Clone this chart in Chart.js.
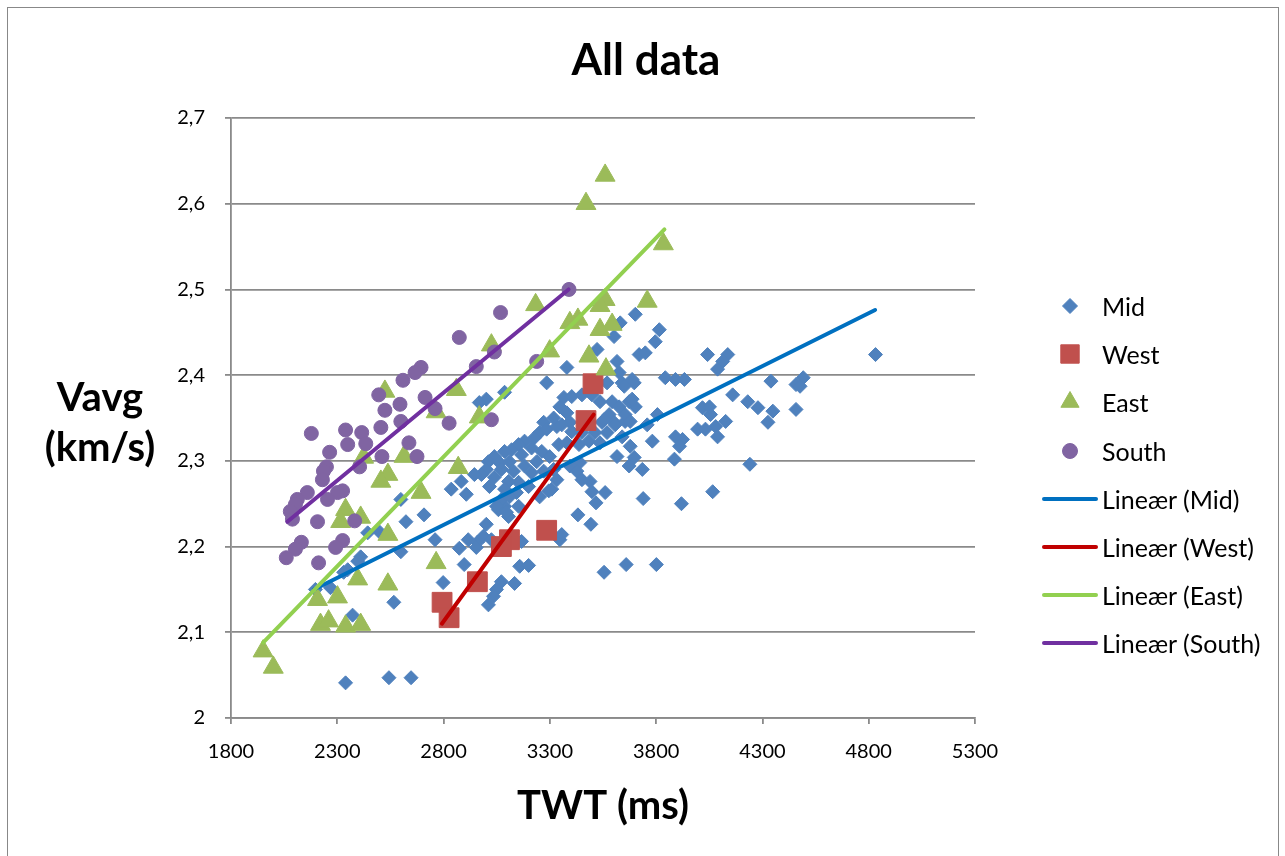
<!DOCTYPE html>
<html>
<head>
<meta charset="utf-8">
<title>All data</title>
<script src="https://cdn.jsdelivr.net/npm/chart.js@4.4.1/dist/chart.umd.min.js"></script>
<style>
  html, body { margin: 0; padding: 0; background: #fff; overflow: hidden; }
  #wrap { position: relative; width: 1285px; height: 856px; font-family: Lato, 'Open Sans', sans-serif; color: #000; }
  #chart { position: absolute; left: 0; top: 0; }
  #frame { position: absolute; left: 7px; top: 7px; width: 1272px; height: 900px; border: 1.5px solid #888; box-sizing: border-box; pointer-events: none; }
  #chartTitle { position: absolute; left: 0; width: 1292px; top: 33px; line-height: 50px; text-align: center; font-weight: 700; font-size: 44px; }
  #yTitle { position: absolute; left: 0; width: 200px; top: 371px; line-height: 50px; text-align: center; font-weight: 700; font-size: 40px; }
  .legend-row { position: absolute; left: 1040px; height: 30px; width: 240px; }
  .legend-row canvas { position: absolute; left: 0; top: 0; }
  .legend-row span { position: absolute; left: 62px; top: 0; line-height: 30px; font-size: 25px; white-space: nowrap; }
</style>
</head>
<body>
<div id="wrap">
  <canvas id="chart" width="1285" height="856"></canvas>
  <div id="chartTitle">All data</div>
  <div id="yTitle">Vavg<br>(km/s)</div>
  <div id="legend"></div>
  <div id="frame"></div>
</div>
<script>
// TWT (ms) / Vavg (km/s)
const midTwt = [
  2599, 2623, 2708, 2907, 2836, 2443, 2495, 2410, 2396, 2349, 2330, 2268, 2197, 2599, 2760, 2874, 2897, 2798, 2566, 2916,
  2959, 2954, 2372, 2339, 2543, 2647, 3001, 3167, 3158, 3200, 3134, 3072, 3049, 3035, 3011, 3347, 3356, 3555, 3659, 3801,
  3432, 3493, 3517, 3560, 3739, 3919, 4066, 3087, 3058, 3106, 3295,
  3285, 3569, 3640, 3697, 3366, 3403, 3451, 3498, 3536, 3593, 3626, 3673, 3702, 3347, 3380, 3394, 3579, 3545, 3602, 3654,
  3403, 3451, 3512, 3569, 3640, 3271, 3252, 3285, 3333, 3342, 3380, 3437, 3484, 3536, 3616, 3697, 3673, 3228, 3181, 3153,
  3120, 3087, 3214, 3262, 3299, 3167, 3039, 3011, 3001, 2978, 3063, 3110, 3072, 3129, 3181, 3238, 3214, 3271, 3318, 3394,
  3441, 3427, 3451, 3489, 3498, 3333, 3309, 3252, 3200, 3153, 3106, 3039, 3016, 3087, 3143, 3072, 3110, 3049, 3096, 3153,
  2987, 3025,
  3702, 3815, 3796, 3631, 3602, 3720, 3749, 4042, 3522, 3616, 3380, 3626, 3087, 3001, 3687, 3843, 3891, 3933, 4089, 4018,
  4056, 4080, 4089, 3782, 3891, 3924, 3886, 3806, 3678, 3735,
  4137, 4113, 4160, 4231, 4051, 4127, 3995, 4032, 3758, 3910, 4241,
  4832, 4340, 4458, 4492, 4477, 4279, 4349, 4326, 4458,
  2883, 2945, 2968, 3318, 3356, 3555, 3607, 3654, 3678, 3650, 3687
];
const midVavg = [
  2.255, 2.229, 2.237, 2.261, 2.267, 2.216, 2.218, 2.188, 2.183, 2.173, 2.170, 2.152, 2.150, 2.194, 2.208, 2.198, 2.179, 2.158, 2.135, 2.208,
  2.205, 2.199, 2.120, 2.041, 2.047, 2.047, 2.226, 2.206, 2.177, 2.178, 2.157, 2.159, 2.150, 2.142, 2.132, 2.208, 2.214, 2.170, 2.179, 2.179,
  2.237, 2.226, 2.251, 2.263, 2.256, 2.250, 2.264, 2.247, 2.243, 2.235, 2.265,
  2.391, 2.391, 2.391, 2.391, 2.374, 2.375, 2.377, 2.377, 2.369, 2.369, 2.363, 2.369, 2.363, 2.363, 2.356, 2.345, 2.354, 2.345, 2.345, 2.346,
  2.334, 2.333, 2.333, 2.333, 2.328, 2.345, 2.333, 2.337, 2.340, 2.319, 2.321, 2.319, 2.323, 2.321, 2.305, 2.304, 2.294, 2.327, 2.323, 2.319,
  2.313, 2.311, 2.315, 2.311, 2.305, 2.307, 2.305, 2.299, 2.290, 2.284, 2.298, 2.299, 2.290, 2.288, 2.294, 2.299, 2.286, 2.288, 2.290, 2.294,
  2.298, 2.288, 2.278, 2.276, 2.264, 2.278, 2.267, 2.258, 2.270, 2.275, 2.276, 2.281, 2.270, 2.267, 2.263, 2.255, 2.258, 2.247, 2.240, 2.247,
  2.212, 2.208,
  2.471, 2.453, 2.439, 2.461, 2.445, 2.424, 2.426, 2.424, 2.430, 2.416, 2.409, 2.403, 2.380, 2.372, 2.395, 2.397, 2.395, 2.395, 2.407, 2.362,
  2.354, 2.340, 2.328, 2.323, 2.328, 2.325, 2.302, 2.354, 2.317, 2.290,
  2.424, 2.416, 2.377, 2.369, 2.363, 2.346, 2.337, 2.337, 2.342, 2.317, 2.296,
  2.424, 2.393, 2.389, 2.397, 2.387, 2.362, 2.358, 2.345, 2.360,
  2.276, 2.284, 2.368, 2.350, 2.342, 2.348, 2.342, 2.354, 2.346, 2.387, 2.372
];

const westTwt = [3503, 3470, 3285, 3110, 3072, 2959, 2793, 2826];
const westVavg = [2.390, 2.347, 2.219, 2.208, 2.200, 2.159, 2.135, 2.117];

const eastTwt = [
  3470, 3560, 3834, 3758, 3233, 3560, 3536, 3394, 3432, 3593, 3536, 3025, 3299, 3484, 3564, 2860, 2524, 2968, 2765, 2424,
  2614, 2869, 2538, 2505, 2694, 2339, 2410, 2316, 2538, 2765, 2396, 2538, 2207, 2301, 2221, 2259, 2339, 2410, 1951, 1999
];
const eastVavg = [
  2.600, 2.633, 2.553, 2.486, 2.482, 2.488, 2.481, 2.461, 2.465, 2.459, 2.453, 2.435, 2.428, 2.422, 2.407, 2.383, 2.381, 2.351, 2.357, 2.304,
  2.305, 2.292, 2.284, 2.276, 2.263, 2.243, 2.234, 2.229, 2.214, 2.181, 2.162, 2.156, 2.138, 2.141, 2.109, 2.113, 2.107, 2.109, 2.078, 2.059
];

const southTwt = [
  2874, 2954, 2694, 2666, 2609, 2495, 2595, 2713, 2760, 2524, 2826, 2599, 2505, 2339, 2415, 2178, 2434, 2349, 2637, 2264,
  2510, 2675, 2249, 2405, 2235, 2230, 2159, 2325, 2301, 2112, 2103, 2079, 2089, 2207, 2254, 2382, 2131, 2103, 2060, 2212,
  2325, 2292, 3068, 3039, 3238, 3025, 3390
];
const southVavg = [
  2.444, 2.410, 2.409, 2.403, 2.394, 2.377, 2.366, 2.374, 2.361, 2.359, 2.344, 2.346, 2.339, 2.336, 2.333, 2.332, 2.320, 2.319, 2.321, 2.310,
  2.305, 2.305, 2.293, 2.293, 2.288, 2.278, 2.263, 2.265, 2.263, 2.255, 2.249, 2.241, 2.232, 2.229, 2.255, 2.230, 2.205, 2.197, 2.187, 2.181,
  2.207, 2.199, 2.473, 2.427, 2.416, 2.348, 2.500
];

// linear trend lines, end points as shown
const midTrendTwt = [2190, 4830];
const midTrendVavg = [2.150, 2.476];
const westTrendTwt = [2792, 3506];
const westTrendVavg = [2.110, 2.354];
const eastTrendTwt = [1951, 3839];
const eastTrendVavg = [2.088, 2.570];
const southTrendTwt = [2065, 3388];
const southTrendVavg = [2.229, 2.500];

const xTicks = [1800, 2300, 2800, 3300, 3800, 4300, 4800, 5300];
const yTicks = [2, 2.1, 2.2, 2.3, 2.4, 2.5, 2.6, 2.7];

const seriesNames = ['Mid', 'West', 'East', 'South'];
const trendNames = ['Lineær (Mid)', 'Lineær (West)', 'Lineær (East)', 'Lineær (South)'];

const toPoints = (xs, ys) => xs.map((x, i) => ({ x: x, y: ys[i] }));
const gridColor = '#8a8a8a';

const markers = [
  { color: '#4F81BD', style: 'rectRot', radius: 7, legendRadius: 7.5 },
  { color: '#C0504D', style: 'rect', radius: 14, legendRadius: 13 },
  { color: '#9BBB59', style: 'triangle', radius: 11.5, legendRadius: 10.5 },
  { color: '#8064A2', style: 'circle', radius: 7, legendRadius: 7.5 }
];
const trendColors = ['#0070C0', '#C00000', '#92D050', '#7030A0'];

const scatterData = [
  toPoints(midTwt, midVavg),
  toPoints(westTwt, westVavg),
  toPoints(eastTwt, eastVavg),
  toPoints(southTwt, southVavg)
];
const trendData = [
  toPoints(midTrendTwt, midTrendVavg),
  toPoints(westTrendTwt, westTrendVavg),
  toPoints(eastTrendTwt, eastTrendVavg),
  toPoints(southTrendTwt, southTrendVavg)
];

const datasets = [];
seriesNames.forEach((name, i) => {
  datasets.push({
    label: name,
    data: scatterData[i],
    pointStyle: markers[i].style,
    pointRadius: markers[i].radius,
    pointBackgroundColor: markers[i].color,
    pointBorderColor: markers[i].color,
    pointBorderWidth: 1,
    showLine: false,
    order: 8 - i
  });
});
trendNames.forEach((name, i) => {
  datasets.push({
    label: name,
    data: trendData[i],
    showLine: true,
    borderColor: trendColors[i],
    borderWidth: 4,
    borderCapStyle: 'round',
    pointRadius: 0,
    order: 4 - i
  });
});

new Chart(document.getElementById('chart'), {
  type: 'scatter',
  data: { datasets: datasets },
  options: {
    responsive: false,
    animation: false,
    events: [],
    layout: { padding: { left: 0, right: 310, top: 118, bottom: 0 } },
    plugins: {
      legend: { display: false },
      tooltip: { enabled: false },
      title: { display: false }
    },
    scales: {
      x: {
        type: 'linear',
        min: xTicks[0],
        max: xTicks[xTicks.length - 1],
        afterBuildTicks: s => { s.ticks = xTicks.map(v => ({ value: v })); },
        afterFit: s => { s.height = 138; },
        grid: { drawOnChartArea: false, drawTicks: true, tickLength: 6, color: gridColor, lineWidth: 1.8 },
        border: { display: true, color: gridColor, width: 1.8 },
        ticks: { padding: 16, color: '#000', font: { family: 'Lato', size: 20 }, callback: v => String(v) },
        title: {
          display: true,
          text: 'TWT (ms)',
          color: '#000',
          font: { family: 'Lato', size: 40, weight: 'bold' },
          padding: { top: 0, bottom: 26 }
        }
      },
      y: {
        type: 'linear',
        min: yTicks[0],
        max: yTicks[yTicks.length - 1],
        afterBuildTicks: s => { s.ticks = yTicks.map(v => ({ value: v })); },
        afterFit: s => { s.width = 231; },
        grid: { drawTicks: true, tickLength: 6, color: gridColor, lineWidth: 1.8 },
        border: { display: true, color: gridColor, width: 1.8 },
        ticks: {
          padding: 20,
          color: '#000',
          font: { family: 'Lato', size: 20 },
          callback: v => String(Math.round(v * 10) / 10).replace('.', ',')
        }
      }
    }
  }
});

// Legend on the right, built from the same series
const legend = document.getElementById('legend');
const rowTop = 306, rowStep = 48.2;
seriesNames.concat(trendNames).forEach((name, i) => {
  const row = document.createElement('div');
  row.className = 'legend-row';
  row.style.top = (rowTop + i * rowStep - 15) + 'px';
  const c = document.createElement('canvas');
  c.width = 60;
  c.height = 30;
  const ctx = c.getContext('2d');
  if (i < 4) {
    const m = markers[i];
    ctx.fillStyle = m.color;
    ctx.strokeStyle = m.color;
    ctx.lineWidth = 1;
    Chart.helpers.drawPoint(ctx, { pointStyle: m.style, radius: m.legendRadius, borderWidth: 1, rotation: 0 }, 30, 15);
  } else {
    ctx.strokeStyle = trendColors[i - 4];
    ctx.lineWidth = 4;
    ctx.lineCap = 'round';
    ctx.beginPath();
    ctx.moveTo(4, 15);
    ctx.lineTo(56, 15);
    ctx.stroke();
  }
  const label = document.createElement('span');
  label.textContent = name;
  row.appendChild(c);
  row.appendChild(label);
  legend.appendChild(row);
});
</script>
</body>
</html>
